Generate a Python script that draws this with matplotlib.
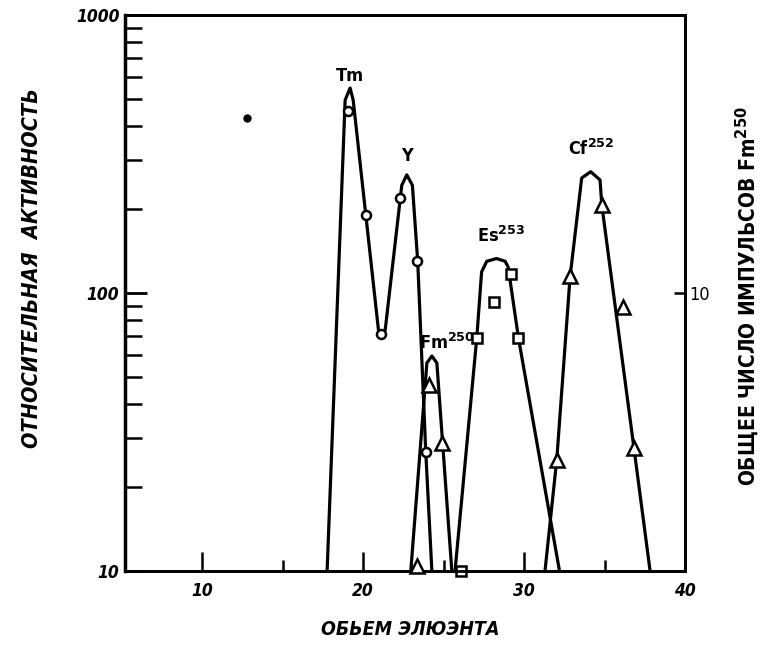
import numpy as np
import matplotlib.pyplot as plt
from matplotlib.ticker import FixedLocator, NullFormatter, NullLocator

# Tm / Y elution curve (circles), relative activity
tm_curve_x = [17.76, 18.88, 19.19, 19.38, 20.95, 21.12, 21.37, 22.40, 22.71, 23.06, 23.39, 23.89, 24.27]
tm_curve_y = [10.0, 494, 546, 494, 73.6, 68.9, 73.6, 244, 266, 244, 130, 26.8, 10.0]
tm_pts_x = [19.07, 20.17, 21.12, 22.30, 23.37, 23.90]
tm_pts_y = [452, 191, 71.3, 219, 130, 26.8]

# Fm250 curve (triangles), total counts (right axis)
fm_curve_x = [22.96, 23.96, 24.27, 24.58, 25.51]
fm_curve_y = [1.0, 5.6, 5.93, 5.6, 1.0]
fm_pts_x = [23.35, 24.12, 24.89]
fm_pts_y = [1.04, 4.66, 2.89]

# Es253 curve (squares)
es_curve_x = [25.71, 27.06, 27.36, 27.68, 28.29, 28.82, 29.01, 29.65, 32.20]
es_curve_y = [10.0, 68.9, 119, 130, 133, 130, 124, 68.9, 10.0]
es_pts_x = [26.09, 27.06, 28.14, 29.17, 29.65]
es_pts_y = [10.0, 68.9, 93, 117, 68.9]

# Cf252 curve (triangles)
cf_curve_x = [31.30, 32.03, 32.86, 33.58, 34.14, 34.72, 34.83, 36.83, 37.83]
cf_curve_y = [10.0, 25.1, 114.6, 259, 273, 255, 207, 27.6, 10.0]
cf_pts_x = [32.03, 32.86, 34.83, 36.17, 36.83]
cf_pts_y = [25.1, 114.6, 207, 89, 27.6]

# stray dot on the original
dot_x = [12.8]
dot_y = [427]

plt.rcParams['font.family'] = ['DejaVu Sans']
plt.rcParams['mathtext.fontset'] = 'dejavusans'

cond = dict(family='DejaVu Sans', stretch='condensed', weight='bold')

fig = plt.figure(figsize=(7.64, 6.51), dpi=100)
ax = fig.add_axes([0.1636, 0.123, 0.733, 0.854])
ax.set_yscale('log')
ax.set_xlim(5.2, 40)
ax.set_ylim(10, 1000)

lw = 2.3
ax.plot(tm_curve_x, tm_curve_y, color='black', lw=lw, solid_joinstyle='round', zorder=2)
ax.plot(es_curve_x, es_curve_y, color='black', lw=lw, solid_joinstyle='round', zorder=2)
ax.plot(cf_curve_x, cf_curve_y, color='black', lw=lw, solid_joinstyle='round', zorder=2)

ax.plot(tm_pts_x, tm_pts_y, 'o', ms=6.5, mfc='white', mec='black', mew=1.8, zorder=3, clip_on=False)
ax.plot(es_pts_x, es_pts_y, 's', ms=7.5, mfc='white', mec='black', mew=1.8, zorder=3, clip_on=False)
ax.plot(cf_pts_x, cf_pts_y, '^', ms=10, mfc='white', mec='black', mew=1.8, zorder=3, clip_on=False)
ax.plot(dot_x, dot_y, 'o', ms=5, color='black', zorder=3)

for s in ax.spines.values():
    s.set_linewidth(2)
ax.spines['left'].set_linewidth(2.5)

ax.xaxis.set_major_locator(FixedLocator([10, 20, 30, 40]))
ax.xaxis.set_minor_locator(FixedLocator([15, 25, 35]))
ax.xaxis.set_tick_params(which='major', direction='in', length=14, width=1.8, pad=8)
ax.xaxis.set_tick_params(which='minor', direction='in', length=8, width=1.8)
ax.yaxis.set_tick_params(which='major', direction='in', length=16, width=2, pad=4)
ax.yaxis.set_tick_params(which='minor', direction='in', length=12, width=1.8)
ax.yaxis.set_minor_formatter(NullFormatter())
ax.set_yticks([10, 100, 1000])
ax.set_yticklabels(['10', '100', '1000'])
for lab in ax.get_xticklabels() + ax.get_yticklabels():
    lab.set(style='oblique', size=12.5, **cond)

ax.set_xlabel('ОБЬЕМ ЭЛЮЭНТА', fontsize=14, style='oblique', va='center', **cond)
ax.xaxis.set_label_coords(0.51, -0.106)
ax.set_ylabel('ОТНОСИТЕЛЬНАЯ  АКТИВНОСТЬ', fontsize=15.5, style='oblique', va='center', **cond)
ax.yaxis.set_label_coords(-0.166, 0.545)

# right axis for Fm250 counts
ax2 = ax.twinx()
ax2.set_yscale('log')
ax2.set_ylim(1, 100)
ax2.set_xlim(5.2, 40)
ax2.plot(fm_curve_x, fm_curve_y, color='black', lw=lw, solid_joinstyle='round', zorder=2)
ax2.plot(fm_pts_x, fm_pts_y, '^', ms=10, mfc='white', mec='black', mew=1.8, zorder=3, clip_on=False)
ax2.yaxis.set_major_locator(FixedLocator([10]))
ax2.yaxis.set_minor_locator(NullLocator())
ax2.set_yticklabels(['10'])
ax2.yaxis.set_tick_params(which='major', direction='in', length=8, width=1.8, pad=3)
for lab in ax2.get_yticklabels():
    lab.set(family='DejaVu Sans', stretch='condensed', size=13)
for s in ax2.spines.values():
    s.set_linewidth(2)
ax2.set_ylabel('ОБЩЕЕ ЧИСЛО ИМПУЛЬСОВ Fm$^{\\mathbf{250}}$', fontsize=15, va='center', **cond)
ax2.yaxis.set_label_coords(1.111, 0.495)

# peak labels
lab_font = dict(fontsize=13, ha='center', va='center', **cond)
ax.text(19.15, 605, 'Tm', **lab_font)
ax.text(22.72, 310, 'Y', **lab_font)
ax.text(28.6, 160, 'Es$^{\\mathbf{253}}$', **lab_font)
ax.text(25.2, 66, 'Fm$^{\\mathbf{250}}$', **lab_font)
ax.text(34.2, 330, 'Cf$^{\\mathbf{252}}$', **lab_font)

fig.savefig('out.png', dpi=100)
